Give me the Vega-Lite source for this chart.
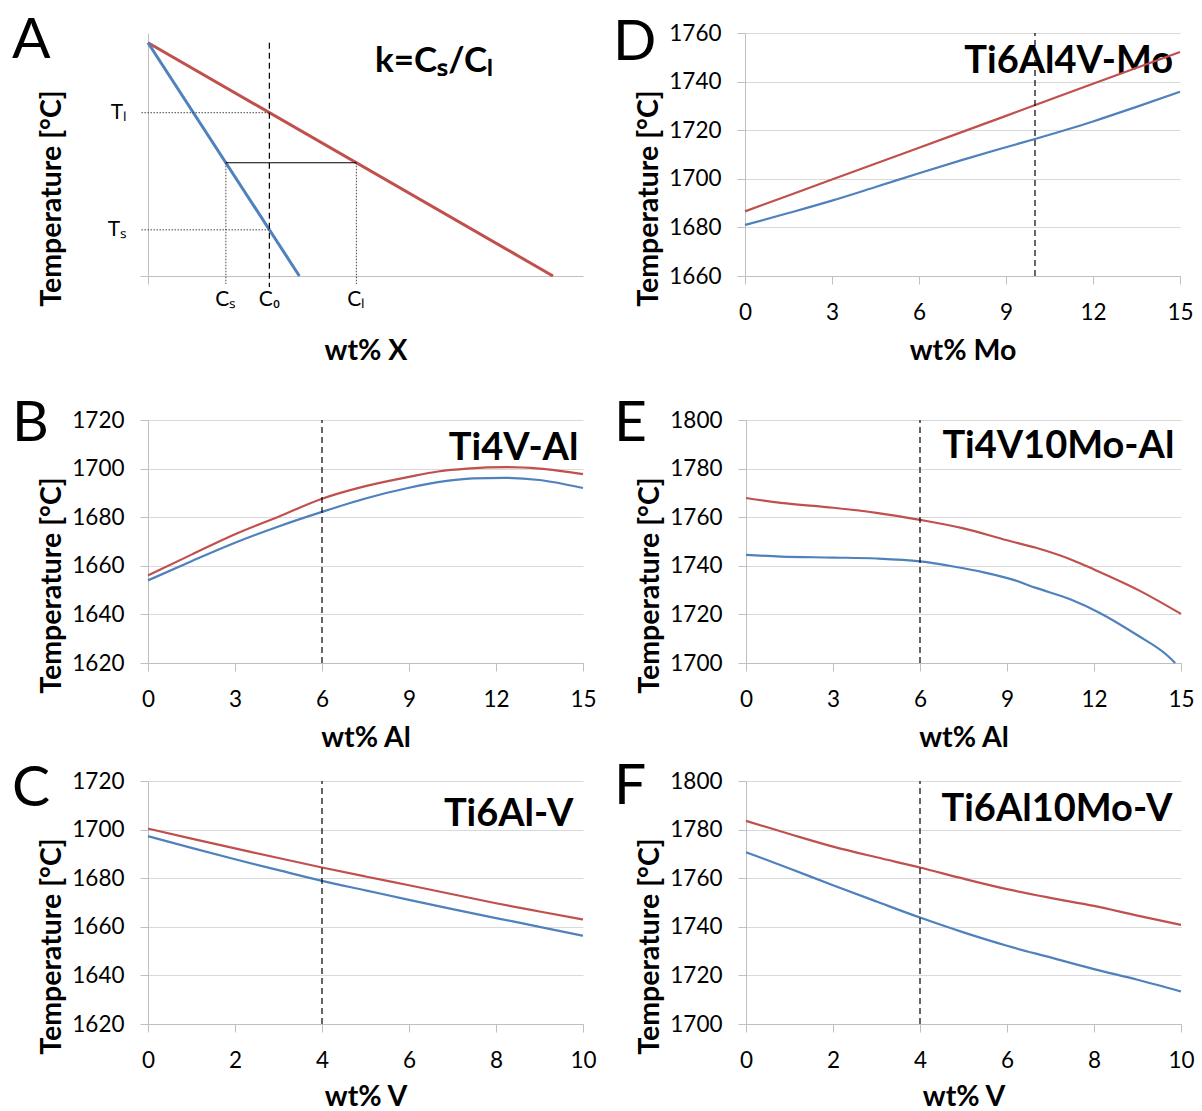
{
  "$schema": "https://vega.github.io/schema/vega-lite/v6.json",
  "background": "white",
  "padding": {"left": 12, "top": 12, "right": 6, "bottom": 0},
  "config": {
    "font": "Lato",
    "view": {"stroke": null},
    "title": {"font": "Lato", "fontSize": 57, "fontWeight": "normal", "anchor": "start", "frame": "group", "color": "#000", "offset": 0, "baseline": "alphabetic"},
    "axis": {
      "domainColor": "#BFBFBF", "tickColor": "#BFBFBF", "gridColor": "#D9D9D9", "gridWidth": 1.2,
      "labelFont": "Lato", "labelFontSize": 22.5, "labelColor": "#000",
      "titleFont": "Lato", "titleFontSize": 28.5, "titleFontWeight": "bold", "titleColor": "#000",
      "tickSize": 8, "labelOverlap": false, "labelFlush": false
    },
    "axisX": {"grid": false, "labelPadding": 17, "titleY": 74, "titleBaseline": "middle"},
    "axisY": {"grid": true, "labelPadding": 16, "titleX": -97, "titleY": 165, "titleAngle": -90, "titleAlign": "center", "titleBaseline": "middle", "format": "d"},
    "text": {"font": "Lato", "color": "#000"}
  },
  "datasets": {
    "curves": [
      {"panel": "A", "series": "Liquidus", "x": 0, "T": 96},
      {"panel": "A", "series": "Liquidus", "x": 93.1, "T": 0},
      {"panel": "A", "series": "Solidus", "x": 0, "T": 96},
      {"panel": "A", "series": "Solidus", "x": 34.8, "T": 0},

      {"panel": "D", "series": "Liquidus", "x": 0, "T": 1686.6},
      {"panel": "D", "series": "Liquidus", "x": 3, "T": 1699.7},
      {"panel": "D", "series": "Liquidus", "x": 6, "T": 1712.8},
      {"panel": "D", "series": "Liquidus", "x": 9, "T": 1725.9},
      {"panel": "D", "series": "Liquidus", "x": 12, "T": 1739.1},
      {"panel": "D", "series": "Liquidus", "x": 15, "T": 1752.2},
      {"panel": "D", "series": "Solidus", "x": 0, "T": 1681.0},
      {"panel": "D", "series": "Solidus", "x": 1.5, "T": 1685.9},
      {"panel": "D", "series": "Solidus", "x": 3, "T": 1691.0},
      {"panel": "D", "series": "Solidus", "x": 4.5, "T": 1696.6},
      {"panel": "D", "series": "Solidus", "x": 6, "T": 1702.3},
      {"panel": "D", "series": "Solidus", "x": 7.5, "T": 1707.8},
      {"panel": "D", "series": "Solidus", "x": 9, "T": 1713.0},
      {"panel": "D", "series": "Solidus", "x": 10, "T": 1716.4},
      {"panel": "D", "series": "Solidus", "x": 12, "T": 1723.6},
      {"panel": "D", "series": "Solidus", "x": 13.5, "T": 1729.6},
      {"panel": "D", "series": "Solidus", "x": 15, "T": 1735.8},

      {"panel": "B", "series": "Liquidus", "x": 0, "T": 1656.0},
      {"panel": "B", "series": "Liquidus", "x": 1.5, "T": 1664.6},
      {"panel": "B", "series": "Liquidus", "x": 3, "T": 1673.0},
      {"panel": "B", "series": "Liquidus", "x": 4.5, "T": 1680.2},
      {"panel": "B", "series": "Liquidus", "x": 6, "T": 1687.6},
      {"panel": "B", "series": "Liquidus", "x": 7.5, "T": 1692.8},
      {"panel": "B", "series": "Liquidus", "x": 9, "T": 1696.6},
      {"panel": "B", "series": "Liquidus", "x": 10, "T": 1698.8},
      {"panel": "B", "series": "Liquidus", "x": 11, "T": 1700.0},
      {"panel": "B", "series": "Liquidus", "x": 12.4, "T": 1700.6},
      {"panel": "B", "series": "Liquidus", "x": 13.5, "T": 1700.0},
      {"panel": "B", "series": "Liquidus", "x": 15, "T": 1697.7},
      {"panel": "B", "series": "Solidus", "x": 0, "T": 1654.0},
      {"panel": "B", "series": "Solidus", "x": 1.5, "T": 1661.9},
      {"panel": "B", "series": "Solidus", "x": 3, "T": 1669.5},
      {"panel": "B", "series": "Solidus", "x": 4.5, "T": 1676.2},
      {"panel": "B", "series": "Solidus", "x": 6, "T": 1682.2},
      {"panel": "B", "series": "Solidus", "x": 7.5, "T": 1687.7},
      {"panel": "B", "series": "Solidus", "x": 9, "T": 1692.1},
      {"panel": "B", "series": "Solidus", "x": 10, "T": 1694.4},
      {"panel": "B", "series": "Solidus", "x": 11.2, "T": 1696.0},
      {"panel": "B", "series": "Solidus", "x": 12.3, "T": 1696.2},
      {"panel": "B", "series": "Solidus", "x": 13.5, "T": 1695.3},
      {"panel": "B", "series": "Solidus", "x": 15, "T": 1692.0},

      {"panel": "E", "series": "Liquidus", "x": 0, "T": 1767.9},
      {"panel": "E", "series": "Liquidus", "x": 1.2, "T": 1765.9},
      {"panel": "E", "series": "Liquidus", "x": 3, "T": 1763.9},
      {"panel": "E", "series": "Liquidus", "x": 4.5, "T": 1761.8},
      {"panel": "E", "series": "Liquidus", "x": 6, "T": 1758.9},
      {"panel": "E", "series": "Liquidus", "x": 7.5, "T": 1755.4},
      {"panel": "E", "series": "Liquidus", "x": 9, "T": 1750.5},
      {"panel": "E", "series": "Liquidus", "x": 10, "T": 1747.4},
      {"panel": "E", "series": "Liquidus", "x": 11.2, "T": 1742.6},
      {"panel": "E", "series": "Liquidus", "x": 12, "T": 1738.5},
      {"panel": "E", "series": "Liquidus", "x": 13.5, "T": 1730.2},
      {"panel": "E", "series": "Liquidus", "x": 15, "T": 1720.2},
      {"panel": "E", "series": "Solidus", "x": 0, "T": 1744.5},
      {"panel": "E", "series": "Solidus", "x": 1.2, "T": 1743.8},
      {"panel": "E", "series": "Solidus", "x": 3, "T": 1743.4},
      {"panel": "E", "series": "Solidus", "x": 4.5, "T": 1743.0},
      {"panel": "E", "series": "Solidus", "x": 6, "T": 1741.8},
      {"panel": "E", "series": "Solidus", "x": 7.2, "T": 1739.6},
      {"panel": "E", "series": "Solidus", "x": 8.2, "T": 1737.3},
      {"panel": "E", "series": "Solidus", "x": 9.2, "T": 1734.3},
      {"panel": "E", "series": "Solidus", "x": 10, "T": 1730.9},
      {"panel": "E", "series": "Solidus", "x": 11.2, "T": 1726.1},
      {"panel": "E", "series": "Solidus", "x": 12.2, "T": 1720.6},
      {"panel": "E", "series": "Solidus", "x": 13.5, "T": 1711.4},
      {"panel": "E", "series": "Solidus", "x": 14.5, "T": 1703.4},
      {"panel": "E", "series": "Solidus", "x": 14.8, "T": 1700.0},

      {"panel": "C", "series": "Liquidus", "x": 0, "T": 1700.4},
      {"panel": "C", "series": "Liquidus", "x": 1, "T": 1696.3},
      {"panel": "C", "series": "Liquidus", "x": 2, "T": 1692.3},
      {"panel": "C", "series": "Liquidus", "x": 3, "T": 1688.3},
      {"panel": "C", "series": "Liquidus", "x": 4, "T": 1684.4},
      {"panel": "C", "series": "Liquidus", "x": 5, "T": 1680.7},
      {"panel": "C", "series": "Liquidus", "x": 6, "T": 1677.1},
      {"panel": "C", "series": "Liquidus", "x": 7, "T": 1673.4},
      {"panel": "C", "series": "Liquidus", "x": 8, "T": 1669.7},
      {"panel": "C", "series": "Liquidus", "x": 9, "T": 1666.3},
      {"panel": "C", "series": "Liquidus", "x": 10, "T": 1663.0},
      {"panel": "C", "series": "Solidus", "x": 0, "T": 1697.3},
      {"panel": "C", "series": "Solidus", "x": 1, "T": 1692.5},
      {"panel": "C", "series": "Solidus", "x": 2, "T": 1687.8},
      {"panel": "C", "series": "Solidus", "x": 3, "T": 1683.3},
      {"panel": "C", "series": "Solidus", "x": 4, "T": 1678.9},
      {"panel": "C", "series": "Solidus", "x": 5, "T": 1675.0},
      {"panel": "C", "series": "Solidus", "x": 6, "T": 1671.1},
      {"panel": "C", "series": "Solidus", "x": 7, "T": 1667.3},
      {"panel": "C", "series": "Solidus", "x": 8, "T": 1663.6},
      {"panel": "C", "series": "Solidus", "x": 9, "T": 1660.0},
      {"panel": "C", "series": "Solidus", "x": 10, "T": 1656.3},

      {"panel": "F", "series": "Liquidus", "x": 0, "T": 1783.6},
      {"panel": "F", "series": "Liquidus", "x": 1, "T": 1778.2},
      {"panel": "F", "series": "Liquidus", "x": 2, "T": 1773.0},
      {"panel": "F", "series": "Liquidus", "x": 3, "T": 1768.6},
      {"panel": "F", "series": "Liquidus", "x": 4, "T": 1764.4},
      {"panel": "F", "series": "Liquidus", "x": 5, "T": 1759.8},
      {"panel": "F", "series": "Liquidus", "x": 6, "T": 1755.5},
      {"panel": "F", "series": "Liquidus", "x": 7, "T": 1751.9},
      {"panel": "F", "series": "Liquidus", "x": 8, "T": 1748.6},
      {"panel": "F", "series": "Liquidus", "x": 9, "T": 1744.6},
      {"panel": "F", "series": "Liquidus", "x": 10, "T": 1740.8},
      {"panel": "F", "series": "Solidus", "x": 0, "T": 1770.7},
      {"panel": "F", "series": "Solidus", "x": 1, "T": 1764.0},
      {"panel": "F", "series": "Solidus", "x": 2, "T": 1757.1},
      {"panel": "F", "series": "Solidus", "x": 3, "T": 1750.4},
      {"panel": "F", "series": "Solidus", "x": 4, "T": 1743.8},
      {"panel": "F", "series": "Solidus", "x": 5, "T": 1737.7},
      {"panel": "F", "series": "Solidus", "x": 6, "T": 1732.2},
      {"panel": "F", "series": "Solidus", "x": 7, "T": 1727.4},
      {"panel": "F", "series": "Solidus", "x": 8, "T": 1722.6},
      {"panel": "F", "series": "Solidus", "x": 9, "T": 1718.2},
      {"panel": "F", "series": "Solidus", "x": 10, "T": 1713.4}
    ]
  },
  "spacing": 30,
  "vconcat": [
    {
      "spacing": 162,
      "bounds": "flush",
      "hconcat": [
        {
          "width": 435, "height": 243,
          "title": {"text": "A", "dx": -136, "dy": 41},
          "layer": [
            {
              "data": {"name": "curves"},
              "transform": [{"filter": "datum.panel === 'A'"}],
              "mark": {"type": "line", "strokeWidth": 3},
              "encoding": {
                "x": {"field": "x", "type": "quantitative", "scale": {"domain": [0, 100], "nice": false, "zero": false}, "axis": {"values": [0], "labels": false, "grid": false, "title": "wt% X"}},
                "y": {"field": "T", "type": "quantitative", "scale": {"domain": [0, 100], "nice": false, "zero": false}, "axis": {"values": [0], "labels": false, "grid": false, "title": "Temperature [°C]"}},
                "color": {"field": "series", "type": "nominal", "scale": {"domain": ["Liquidus", "Solidus"], "range": ["#C0504D", "#4F81BD"]}, "legend": null}
              }
            },
            {
              "data": {"values": [
                {"x": -1.5, "x2": 27.9, "T": 67.2, "T2": 67.2},
                {"x": -1.5, "x2": 27.9, "T": 19.0, "T2": 19.0},
                {"x": 17.9, "x2": 17.9, "T": 46.6, "T2": -3.3},
                {"x": 47.9, "x2": 47.9, "T": 46.6, "T2": -3.3}
              ]},
              "mark": {"type": "rule", "strokeDash": [1.5, 1.5], "color": "#444", "strokeWidth": 1},
              "encoding": {
                "x": {"field": "x", "type": "quantitative"},
                "x2": {"field": "x2"},
                "y": {"field": "T", "type": "quantitative"},
                "y2": {"field": "T2"}
              }
            },
            {
              "data": {"values": [{"x": 27.9, "T": 96, "T2": -4.5}]},
              "mark": {"type": "rule", "strokeDash": [6, 4], "color": "#000", "strokeWidth": 1.2},
              "encoding": {
                "x": {"field": "x", "type": "quantitative"},
                "y": {"field": "T", "type": "quantitative"},
                "y2": {"field": "T2"}
              }
            },
            {
              "data": {"values": [{"x": 17.9, "x2": 47.9, "T": 46.6}]},
              "mark": {"type": "rule", "color": "#000", "strokeWidth": 1.2},
              "encoding": {
                "x": {"field": "x", "type": "quantitative"},
                "x2": {"field": "x2"},
                "y": {"field": "T", "type": "quantitative"}
              }
            },
            {
              "data": {"values": [
                {"label": "Tₗ", "x": -4.8, "T": 67.2},
                {"label": "Tₛ", "x": -4.8, "T": 19.0}
              ]},
              "mark": {"type": "text", "align": "right", "baseline": "middle", "fontSize": 21},
              "encoding": {
                "x": {"field": "x", "type": "quantitative"},
                "y": {"field": "T", "type": "quantitative"},
                "text": {"field": "label"}
              }
            },
            {
              "data": {"values": [
                {"label": "Cₛ", "x": 17.9, "T": -9.9},
                {"label": "C₀", "x": 27.9, "T": -9.9},
                {"label": "Cₗ", "x": 47.9, "T": -9.9}
              ]},
              "mark": {"type": "text", "align": "center", "baseline": "middle", "fontSize": 21},
              "encoding": {
                "x": {"field": "x", "type": "quantitative"},
                "y": {"field": "T", "type": "quantitative"},
                "text": {"field": "label"}
              }
            },
            {
              "data": {"values": [{"label": "k=Cₛ/Cₗ", "x": 52.2, "T": 84}]},
              "mark": {"type": "text", "align": "left", "baseline": "alphabetic", "fontSize": 35, "fontWeight": "bold"},
              "encoding": {
                "x": {"field": "x", "type": "quantitative"},
                "y": {"field": "T", "type": "quantitative"},
                "text": {"field": "label"}
              }
            }
          ]
        },
        {
          "width": 435, "height": 243,
          "title": {"text": "D", "dx": -132, "dy": 54},
          "layer": [
            {
              "data": {"values": [{"label": "Ti6Al4V-Mo", "x": 14.76, "T": 1743.5}]},
              "mark": {"type": "text", "align": "right", "baseline": "alphabetic", "fontSize": 38, "fontWeight": "bold"},
              "encoding": {
                "x": {"field": "x", "type": "quantitative"},
                "y": {"field": "T", "type": "quantitative"},
                "text": {"field": "label"}
              }
            },
            {
              "data": {"name": "curves"},
              "transform": [{"filter": "datum.panel === 'D'"}],
              "mark": {"type": "line", "strokeWidth": 2.2, "interpolate": "monotone"},
              "encoding": {
                "x": {"field": "x", "type": "quantitative", "scale": {"domain": [0, 15], "nice": false, "zero": false}, "axis": {"values": [0, 3, 6, 9, 12, 15], "title": "wt% Mo"}},
                "y": {"field": "T", "type": "quantitative", "scale": {"domain": [1660, 1760], "nice": false, "zero": false}, "axis": {"values": [1660, 1680, 1700, 1720, 1740, 1760], "title": "Temperature [°C]"}},
                "color": {"field": "series", "type": "nominal", "scale": {"domain": ["Liquidus", "Solidus"], "range": ["#C0504D", "#4F81BD"]}, "legend": null}
              }
            },
            {
              "data": {"values": [{"x": 10, "T": 1660, "T2": 1760}]},
              "mark": {"type": "rule", "strokeDash": [6, 4], "color": "#000", "strokeWidth": 1.2},
              "encoding": {
                "x": {"field": "x", "type": "quantitative"},
                "y": {"field": "T", "type": "quantitative"},
                "y2": {"field": "T2"}
              }
            }
          ]
        }
      ]
    },
    {
      "spacing": 17,
      "hconcat": [
        {
          "spacing": 118,
          "bounds": "flush",
          "vconcat": [
            {
              "width": 435, "height": 243,
              "title": {"text": "B", "dx": -136, "dy": 48},
              "layer": [
                {
                  "data": {"values": [{"label": "Ti4V-Al", "x": 14.84, "T": 1703.5}]},
                  "mark": {"type": "text", "align": "right", "baseline": "alphabetic", "fontSize": 38, "fontWeight": "bold"},
                  "encoding": {
                    "x": {"field": "x", "type": "quantitative"},
                    "y": {"field": "T", "type": "quantitative"},
                    "text": {"field": "label"}
                  }
                },
                {
                  "data": {"name": "curves"},
                  "transform": [{"filter": "datum.panel === 'B'"}],
                  "mark": {"type": "line", "strokeWidth": 2.2, "interpolate": "monotone"},
                  "encoding": {
                    "x": {"field": "x", "type": "quantitative", "scale": {"domain": [0, 15], "nice": false, "zero": false}, "axis": {"values": [0, 3, 6, 9, 12, 15], "title": "wt% Al"}},
                    "y": {"field": "T", "type": "quantitative", "scale": {"domain": [1620, 1720], "nice": false, "zero": false}, "axis": {"values": [1620, 1640, 1660, 1680, 1700, 1720], "title": "Temperature [°C]"}},
                    "color": {"field": "series", "type": "nominal", "scale": {"domain": ["Liquidus", "Solidus"], "range": ["#C0504D", "#4F81BD"]}, "legend": null}
                  }
                },
                {
                  "data": {"values": [{"x": 6, "T": 1620, "T2": 1720}]},
                  "mark": {"type": "rule", "strokeDash": [6, 4], "color": "#000", "strokeWidth": 1.2},
                  "encoding": {
                    "x": {"field": "x", "type": "quantitative"},
                    "y": {"field": "T", "type": "quantitative"},
                    "y2": {"field": "T2"}
                  }
                }
              ]
            },
            {
              "width": 435, "height": 243,
              "title": {"text": "C", "dx": -136, "dy": 52},
              "layer": [
                {
                  "data": {"values": [{"label": "Ti6Al-V", "x": 9.78, "T": 1701.4}]},
                  "mark": {"type": "text", "align": "right", "baseline": "alphabetic", "fontSize": 38, "fontWeight": "bold"},
                  "encoding": {
                    "x": {"field": "x", "type": "quantitative"},
                    "y": {"field": "T", "type": "quantitative"},
                    "text": {"field": "label"}
                  }
                },
                {
                  "data": {"name": "curves"},
                  "transform": [{"filter": "datum.panel === 'C'"}],
                  "mark": {"type": "line", "strokeWidth": 2.2, "interpolate": "monotone"},
                  "encoding": {
                    "x": {"field": "x", "type": "quantitative", "scale": {"domain": [0, 10], "nice": false, "zero": false}, "axis": {"values": [0, 2, 4, 6, 8, 10], "title": "wt% V", "titleY": 72}},
                    "y": {"field": "T", "type": "quantitative", "scale": {"domain": [1620, 1720], "nice": false, "zero": false}, "axis": {"values": [1620, 1640, 1660, 1680, 1700, 1720], "title": "Temperature [°C]"}},
                    "color": {"field": "series", "type": "nominal", "scale": {"domain": ["Liquidus", "Solidus"], "range": ["#C0504D", "#4F81BD"]}, "legend": null}
                  }
                },
                {
                  "data": {"values": [{"x": 4, "T": 1620, "T2": 1720}]},
                  "mark": {"type": "rule", "strokeDash": [6, 4], "color": "#000", "strokeWidth": 1.2},
                  "encoding": {
                    "x": {"field": "x", "type": "quantitative"},
                    "y": {"field": "T", "type": "quantitative"},
                    "y2": {"field": "T2"}
                  }
                }
              ]
            }
          ]
        },
        {
          "spacing": 118,
          "bounds": "flush",
          "vconcat": [
            {
              "width": 435, "height": 243,
              "title": {"text": "E", "dx": -132, "dy": 48},
              "layer": [
                {
                  "data": {"values": [{"label": "Ti4V10Mo-Al", "x": 14.77, "T": 1784.2}]},
                  "mark": {"type": "text", "align": "right", "baseline": "alphabetic", "fontSize": 38, "fontWeight": "bold"},
                  "encoding": {
                    "x": {"field": "x", "type": "quantitative"},
                    "y": {"field": "T", "type": "quantitative"},
                    "text": {"field": "label"}
                  }
                },
                {
                  "data": {"name": "curves"},
                  "transform": [{"filter": "datum.panel === 'E'"}],
                  "mark": {"type": "line", "strokeWidth": 2.2, "interpolate": "monotone"},
                  "encoding": {
                    "x": {"field": "x", "type": "quantitative", "scale": {"domain": [0, 15], "nice": false, "zero": false}, "axis": {"values": [0, 3, 6, 9, 12, 15], "title": "wt% Al"}},
                    "y": {"field": "T", "type": "quantitative", "scale": {"domain": [1700, 1800], "nice": false, "zero": false}, "axis": {"values": [1700, 1720, 1740, 1760, 1780, 1800], "title": "Temperature [°C]"}},
                    "color": {"field": "series", "type": "nominal", "scale": {"domain": ["Liquidus", "Solidus"], "range": ["#C0504D", "#4F81BD"]}, "legend": null}
                  }
                },
                {
                  "data": {"values": [{"x": 6, "T": 1700, "T2": 1800}]},
                  "mark": {"type": "rule", "strokeDash": [6, 4], "color": "#000", "strokeWidth": 1.2},
                  "encoding": {
                    "x": {"field": "x", "type": "quantitative"},
                    "y": {"field": "T", "type": "quantitative"},
                    "y2": {"field": "T2"}
                  }
                }
              ]
            },
            {
              "width": 435, "height": 243,
              "title": {"text": "F", "dx": -132, "dy": 50},
              "layer": [
                {
                  "data": {"values": [{"label": "Ti6Al10Mo-V", "x": 9.8, "T": 1783.7}]},
                  "mark": {"type": "text", "align": "right", "baseline": "alphabetic", "fontSize": 38, "fontWeight": "bold"},
                  "encoding": {
                    "x": {"field": "x", "type": "quantitative"},
                    "y": {"field": "T", "type": "quantitative"},
                    "text": {"field": "label"}
                  }
                },
                {
                  "data": {"name": "curves"},
                  "transform": [{"filter": "datum.panel === 'F'"}],
                  "mark": {"type": "line", "strokeWidth": 2.2, "interpolate": "monotone"},
                  "encoding": {
                    "x": {"field": "x", "type": "quantitative", "scale": {"domain": [0, 10], "nice": false, "zero": false}, "axis": {"values": [0, 2, 4, 6, 8, 10], "title": "wt% V", "titleY": 72}},
                    "y": {"field": "T", "type": "quantitative", "scale": {"domain": [1700, 1800], "nice": false, "zero": false}, "axis": {"values": [1700, 1720, 1740, 1760, 1780, 1800], "title": "Temperature [°C]"}},
                    "color": {"field": "series", "type": "nominal", "scale": {"domain": ["Liquidus", "Solidus"], "range": ["#C0504D", "#4F81BD"]}, "legend": null}
                  }
                },
                {
                  "data": {"values": [{"x": 4, "T": 1700, "T2": 1800}]},
                  "mark": {"type": "rule", "strokeDash": [6, 4], "color": "#000", "strokeWidth": 1.2},
                  "encoding": {
                    "x": {"field": "x", "type": "quantitative"},
                    "y": {"field": "T", "type": "quantitative"},
                    "y2": {"field": "T2"}
                  }
                }
              ]
            }
          ]
        }
      ]
    }
  ]
}
